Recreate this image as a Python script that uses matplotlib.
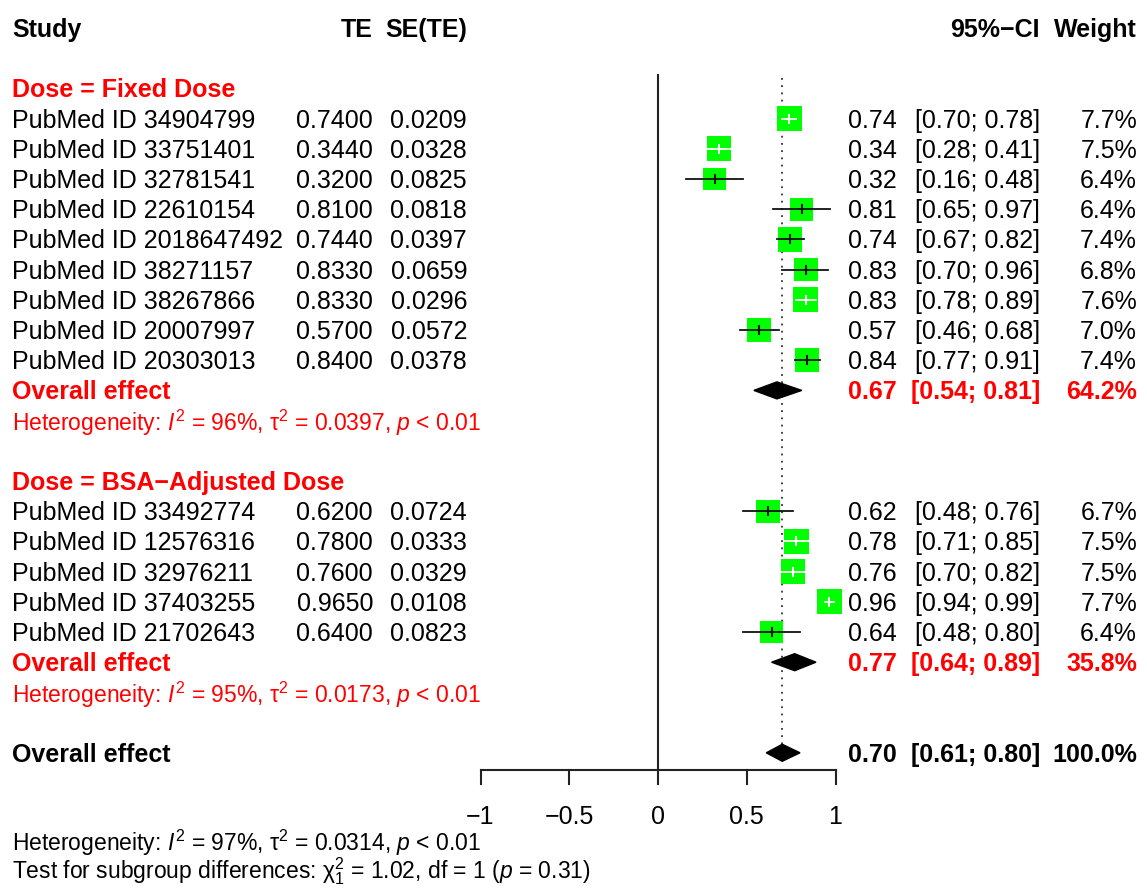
import matplotlib
matplotlib.use("Agg")
import matplotlib.pyplot as plt
from matplotlib.patches import Rectangle, Polygon
from matplotlib.transforms import blended_transform_factory

plt.rcParams["font.family"] = ["Liberation Sans", "DejaVu Sans"]
plt.rcParams["mathtext.fontset"] = "custom"
plt.rcParams["mathtext.rm"] = "Liberation Sans"
plt.rcParams["mathtext.it"] = "Liberation Sans:italic"
plt.rcParams["mathtext.bf"] = "Liberation Sans:bold"

# --- data ---
fixed_studies = ["PubMed ID 34904799", "PubMed ID 33751401", "PubMed ID 32781541",
                 "PubMed ID 22610154", "PubMed ID 2018647492", "PubMed ID 38271157",
                 "PubMed ID 38267866", "PubMed ID 20007997", "PubMed ID 20303013"]
fixed_te = [0.7400, 0.3440, 0.3200, 0.8100, 0.7440, 0.8330, 0.8330, 0.5700, 0.8400]
fixed_se = [0.0209, 0.0328, 0.0825, 0.0818, 0.0397, 0.0659, 0.0296, 0.0572, 0.0378]
fixed_lo = [0.70, 0.28, 0.16, 0.65, 0.67, 0.70, 0.78, 0.46, 0.77]
fixed_hi = [0.78, 0.41, 0.48, 0.97, 0.82, 0.96, 0.89, 0.68, 0.91]
fixed_w = [7.7, 7.5, 6.4, 6.4, 7.4, 6.8, 7.6, 7.0, 7.4]
fixed_est = ["0.74", "0.34", "0.32", "0.81", "0.74", "0.83", "0.83", "0.57", "0.84"]

bsa_studies = ["PubMed ID 33492774", "PubMed ID 12576316", "PubMed ID 32976211",
               "PubMed ID 37403255", "PubMed ID 21702643"]
bsa_te = [0.6200, 0.7800, 0.7600, 0.9650, 0.6400]
bsa_se = [0.0724, 0.0333, 0.0329, 0.0108, 0.0823]
bsa_lo = [0.48, 0.71, 0.70, 0.94, 0.48]
bsa_hi = [0.76, 0.85, 0.82, 0.99, 0.80]
bsa_w = [6.7, 7.5, 7.5, 7.7, 6.4]
bsa_est = ["0.62", "0.78", "0.76", "0.96", "0.64"]

# pooled: estimate, lower, upper, weight
fixed_pool = (0.67, 0.54, 0.81, 64.2)
bsa_pool = (0.77, 0.64, 0.89, 35.8)
total_pool = (0.70, 0.61, 0.80, 100.0)

fixed_het = r"Heterogeneity: $\mathit{I}^2$ = 96%, τ$^2$ = 0.0397, $\mathit{p}$ < 0.01"
bsa_het = r"Heterogeneity: $\mathit{I}^2$ = 95%, τ$^2$ = 0.0173, $\mathit{p}$ < 0.01"
total_het = r"Heterogeneity: $\mathit{I}^2$ = 97%, τ$^2$ = 0.0314, $\mathit{p}$ < 0.01"
subgroup_test = r"Test for subgroup differences: $\mathrm{\chi}^2_1$ = 1.02, df = 1 ($\mathit{p}$ = 0.31)"

ticks = [-1, -0.5, 0, 0.5, 1]
tick_labels = ["\u22121", "\u22120.5", "0", "0.5", "1"]

# --- layout ---
W, H = 1147, 888
PX_PER_UNIT = 177.5
X0 = 658
ROW0, ROW_H = 28, 30.2

fig = plt.figure(figsize=(W / 100, H / 100), dpi=100)
ax = fig.add_axes([0, 0, 1, 1])
ax.set_xlim(-X0 / PX_PER_UNIT, (W - X0) / PX_PER_UNIT)
ax.set_ylim((H - ROW0) / ROW_H, -ROW0 / ROW_H)
ax.axis("off")

tr = blended_transform_factory(ax.transAxes, ax.transData)
FS = 18
FS_HET = 16.5
RED = "#ff0000"
GREEN = "#00ff00"
TXT_SHIFT = 2 / ROW_H

def put(px, row, s, ha="left", **kw):
    ax.text(px / W, row + TXT_SHIFT, s, transform=tr, ha=ha, va="center",
            fontsize=kw.pop("fs", FS), **kw)

# header
put(12, 0, "Study", weight="bold")
put(373, 0, "TE", ha="right", weight="bold")
put(467, 0, "SE(TE)", ha="right", weight="bold")
put(1040, 0, "95%\u2212CI", ha="right", weight="bold")
put(1137, 0, "Weight", ha="right", weight="bold")

def box(row, te, se, lo, hi, w):
    side = 25 * (w / 7.7) ** 0.5
    bw = side / PX_PER_UNIT
    bh = side / ROW_H
    ax.add_patch(Rectangle((te - bw / 2, row - bh / 2), bw, bh, facecolor=GREEN,
                           edgecolor="none", zorder=3))
    inside = 2 * 1.96 * se * PX_PER_UNIT < side
    lc = "white" if inside else "#111111"
    ax.plot([lo, hi], [row, row], color=lc, lw=1.3, zorder=4)
    ax.plot([te, te], [row - 4 / ROW_H, row + 4 / ROW_H], color=lc, lw=1.5, zorder=4)

def diamond(row, est, lo, hi):
    h = 17 / ROW_H
    ax.add_patch(Polygon([[lo, row], [est, row - h / 2], [hi, row], [est, row + h / 2]],
                         closed=True, facecolor="black", edgecolor="black", zorder=4))

def group(start, title, studies, te, se, lo, hi, w, est, pool, het):
    put(12, start, title, color=RED, weight="bold")
    for i in range(len(studies)):
        r = start + 1 + i
        put(12, r, studies[i])
        put(373, r, f"{te[i]:.4f}", ha="right")
        put(467, r, f"{se[i]:.4f}", ha="right")
        put(897, r, est[i], ha="right")
        put(1040, r, f"[{lo[i]:.2f}; {hi[i]:.2f}]", ha="right")
        put(1137, r, f"{w[i]:.1f}%", ha="right")
        box(r, te[i], se[i], lo[i], hi[i], w[i])
    r = start + 1 + len(studies)
    put(12, r, "Overall effect", color=RED, weight="bold")
    put(897, r, f"{pool[0]:.2f}", ha="right", color=RED, weight="bold")
    put(1040, r, f"[{pool[1]:.2f}; {pool[2]:.2f}]", ha="right", color=RED, weight="bold")
    put(1137, r, f"{pool[3]:.1f}%", ha="right", color=RED, weight="bold")
    diamond(r, pool[0], pool[1], pool[2])
    put(12, r + 1, het, color=RED, fs=FS_HET)

group(2, "Dose = Fixed Dose", fixed_studies, fixed_te, fixed_se, fixed_lo, fixed_hi,
      fixed_w, fixed_est, fixed_pool, fixed_het)
group(15, "Dose = BSA\u2212Adjusted Dose", bsa_studies, bsa_te, bsa_se, bsa_lo, bsa_hi,
      bsa_w, bsa_est, bsa_pool, bsa_het)

r = 24
put(12, r, "Overall effect", weight="bold")
put(897, r, f"{total_pool[0]:.2f}", ha="right", weight="bold")
put(1040, r, f"[{total_pool[1]:.2f}; {total_pool[2]:.2f}]", ha="right", weight="bold")
put(1137, r, f"{total_pool[3]:.1f}%", ha="right", weight="bold")
diamond(r, total_pool[0], total_pool[1], total_pool[2])

# reference lines
axis_row = (770 - ROW0) / ROW_H
ax.plot([0, 0], [(75 - ROW0) / ROW_H, axis_row], color="#222222", lw=1.5, zorder=2)
ax.plot([total_pool[0]] * 2, [(78 - ROW0) / ROW_H, 24 - 8.5 / ROW_H], color="#333333",
        lw=1.3, ls=(0, (1, 3)), zorder=1)

# x axis
ax.plot([ticks[0], ticks[-1]], [axis_row, axis_row], color="#222222", lw=1.5)
for t, lab in zip(ticks, tick_labels):
    ax.plot([t, t], [axis_row, axis_row + 14 / ROW_H], color="#222222", lw=1.5)
    ax.text(t, (817 - ROW0) / ROW_H, lab, ha="center", va="center", fontsize=FS)

put(12, (841 - ROW0) / ROW_H, total_het, fs=FS_HET)
put(12, (869 - ROW0) / ROW_H, subgroup_test, fs=FS_HET)

fig.savefig("out.png", dpi=100)
